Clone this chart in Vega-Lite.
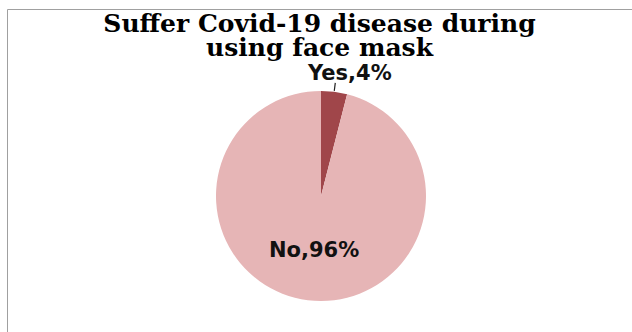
{
  "$schema": "https://vega.github.io/schema/vega-lite/v6.json",
  "width": 625,
  "height": 323,
  "autosize": {"type": "none"},
  "padding": {"left": 7, "top": 9, "right": 0, "bottom": 0},
  "background": "white",
  "view": {"stroke": "#a0a0a0", "strokeWidth": 1, "fill": "white"},
  "title": {
    "text": ["Suffer Covid-19 disease during", "using face mask"],
    "font": "DejaVu Serif",
    "fontSize": 25,
    "fontWeight": "bold",
    "lineHeight": 24,
    "color": "#000000",
    "anchor": "middle",
    "offset": -52
  },
  "data": {
    "values": [
      {"category": "Yes", "value": 4, "label": "Yes,4%"},
      {"category": "No", "value": 96, "label": "No,96%"}
    ]
  },
  "encoding": {
    "theta": {"field": "value", "type": "quantitative", "stack": true},
    "order": {"field": "value", "type": "quantitative", "sort": "ascending"}
  },
  "layer": [
    {
      "mark": {"type": "arc", "radius": 105, "xOffset": 1.5, "yOffset": 25.5},
      "encoding": {
        "color": {
          "field": "category",
          "type": "nominal",
          "scale": {"domain": ["Yes", "No"], "range": ["#A0464A", "#E6B5B6"]},
          "legend": null
        }
      }
    },
    {
      "mark": {"type": "arc", "radius": 114, "radius2": 106, "padAngle": 0.5, "fillOpacity": 0, "strokeWidth": 1.2, "xOffset": 1.5, "yOffset": 25.5},
      "encoding": {
        "stroke": {"condition": {"test": "datum.category === 'Yes'", "value": "#222222"}, "value": null}
      }
    },
    {
      "mark": {"type": "text", "radius": 122.5, "xOffset": 15, "yOffset": 25.5, "font": "DejaVu Sans", "fontSize": 21, "fontWeight": "bold", "baseline": "middle", "align": "center", "color": "#111111"},
      "encoding": {
        "text": {"condition": {"test": "datum.category === 'Yes'", "field": "label"}, "value": ""}
      }
    },
    {
      "mark": {"type": "text", "radius": 55, "xOffset": 1.5, "yOffset": 25.5, "font": "DejaVu Sans", "fontSize": 21, "fontWeight": "bold", "baseline": "middle", "align": "center", "color": "#111111"},
      "encoding": {
        "text": {"condition": {"test": "datum.category === 'No'", "field": "label"}, "value": ""}
      }
    }
  ]
}
